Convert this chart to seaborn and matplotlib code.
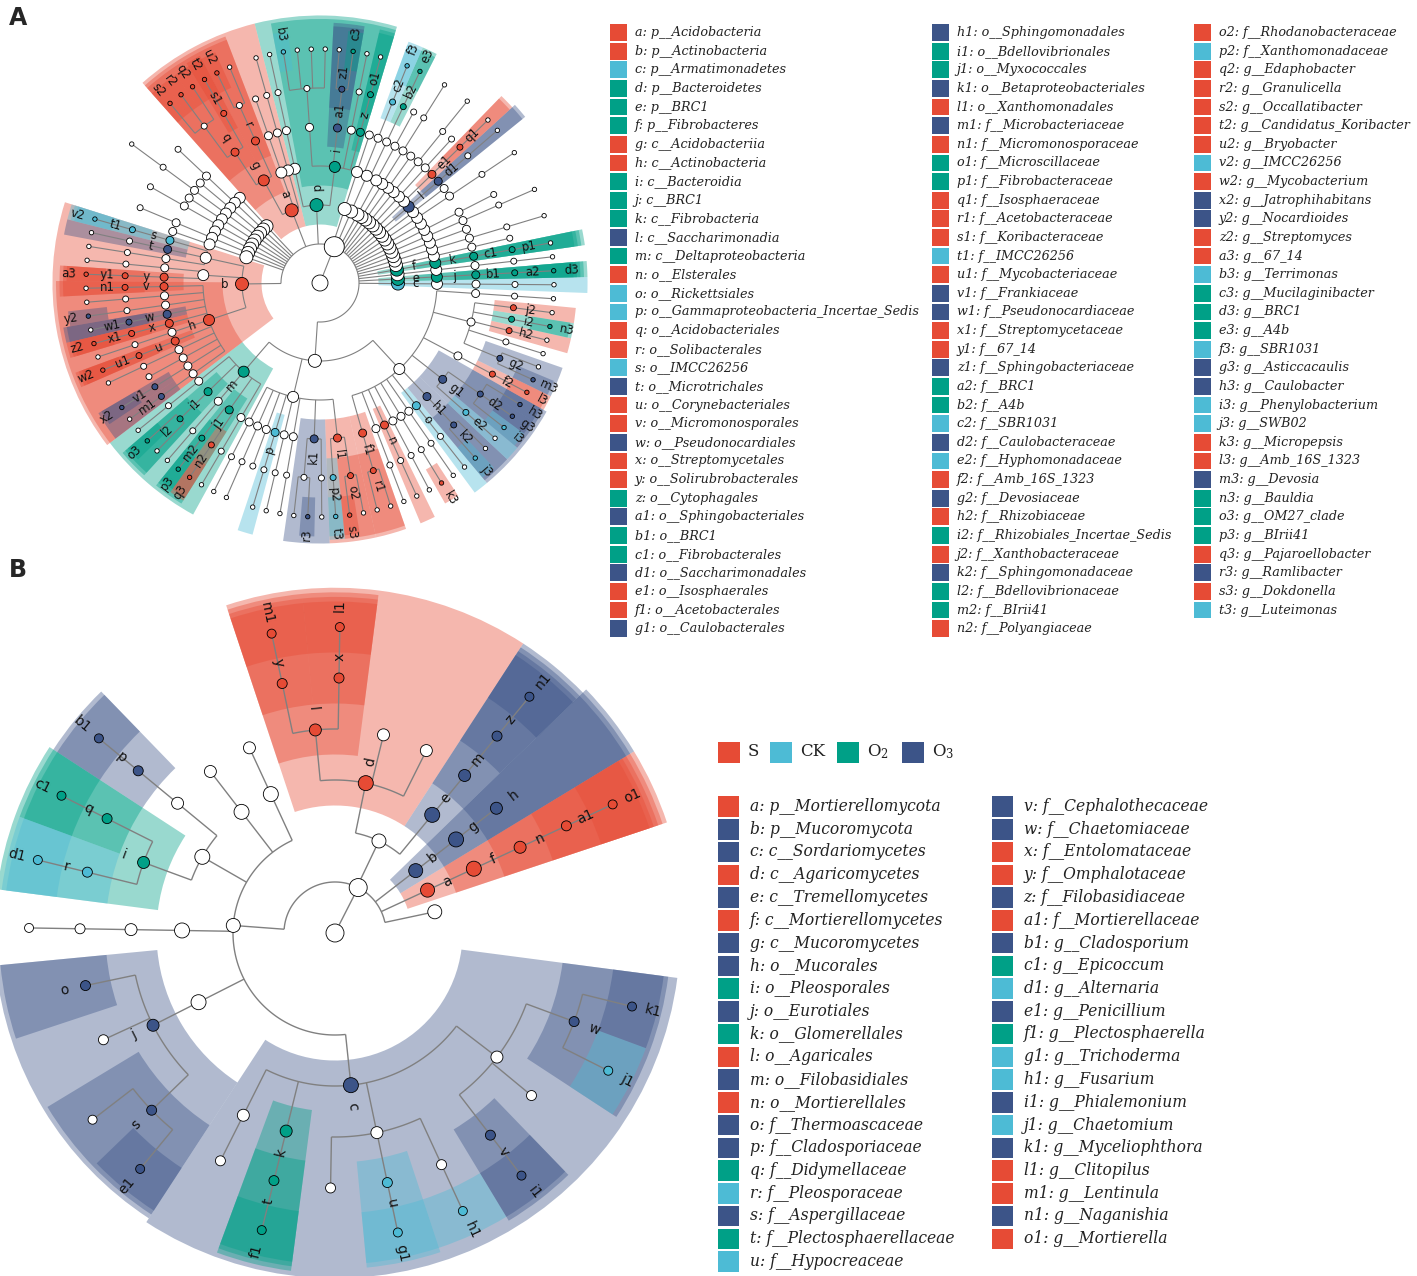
import numpy as np
import pandas as pd
import matplotlib
matplotlib.use("Agg")
import matplotlib.pyplot as plt
from matplotlib.patches import Wedge, Rectangle
from matplotlib.collections import LineCollection
import seaborn as sns

sns.set_theme(style="white")
plt.rcParams["font.family"] = ["DejaVu Sans"]
plt.rcParams["mathtext.fontset"] = "dejavuserif"

W, H = 1417, 1276

# gruppi e colori
GROUPS = ["S", "CK", "O2", "O3"]
GROUP_LABELS = ["S", "CK", r"O$_2$", r"O$_3$"]
GROUP_COLORS = ["#E64B35", "#4DBBD5", "#00A087", "#3C5488"]

# ---- pannello A: legenda (codice: taxon) e gruppo
A_LEGEND = [
    "a: p__Acidobacteria", "b: p__Actinobacteria", "c: p__Armatimonadetes", "d: p__Bacteroidetes",
    "e: p__BRC1", "f: p__Fibrobacteres", "g: c__Acidobacteriia", "h: c__Actinobacteria",
    "i: c__Bacteroidia", "j: c__BRC1", "k: c__Fibrobacteria", "l: c__Saccharimonadia",
    "m: c__Deltaproteobacteria", "n: o__Elsterales", "o: o__Rickettsiales",
    "p: o__Gammaproteobacteria_Incertae_Sedis", "q: o__Acidobacteriales", "r: o__Solibacterales",
    "s: o__IMCC26256", "t: o__Microtrichales", "u: o__Corynebacteriales", "v: o__Micromonosporales",
    "w: o__Pseudonocardiales", "x: o__Streptomycetales", "y: o__Solirubrobacterales",
    "z: o__Cytophagales", "a1: o__Sphingobacteriales", "b1: o__BRC1", "c1: o__Fibrobacterales",
    "d1: o__Saccharimonadales", "e1: o__Isosphaerales", "f1: o__Acetobacterales",
    "g1: o__Caulobacterales",
    "h1: o__Sphingomonadales", "i1: o__Bdellovibrionales", "j1: o__Myxococcales",
    "k1: o__Betaproteobacteriales", "l1: o__Xanthomonadales", "m1: f__Microbacteriaceae",
    "n1: f__Micromonosporaceae", "o1: f__Microscillaceae", "p1: f__Fibrobacteraceae",
    "q1: f__Isosphaeraceae", "r1: f__Acetobacteraceae", "s1: f__Koribacteraceae",
    "t1: f__IMCC26256", "u1: f__Mycobacteriaceae", "v1: f__Frankiaceae", "w1: f__Pseudonocardiaceae",
    "x1: f__Streptomycetaceae", "y1: f__67_14", "z1: f__Sphingobacteriaceae", "a2: f__BRC1",
    "b2: f__A4b", "c2: f__SBR1031", "d2: f__Caulobacteraceae", "e2: f__Hyphomonadaceae",
    "f2: f__Amb_16S_1323", "g2: f__Devosiaceae", "h2: f__Rhizobiaceae",
    "i2: f__Rhizobiales_Incertae_Sedis", "j2: f__Xanthobacteraceae", "k2: f__Sphingomonadaceae",
    "l2: f__Bdellovibrionaceae", "m2: f__BIrii41", "n2: f__Polyangiaceae",
    "o2: f__Rhodanobacteraceae", "p2: f__Xanthomonadaceae", "q2: g__Edaphobacter",
    "r2: g__Granulicella", "s2: g__Occallatibacter", "t2: g__Candidatus_Koribacter",
    "u2: g__Bryobacter", "v2: g__IMCC26256", "w2: g__Mycobacterium", "x2: g__Jatrophihabitans",
    "y2: g__Nocardioides", "z2: g__Streptomyces", "a3: g__67_14", "b3: g__Terrimonas",
    "c3: g__Mucilaginibacter", "d3: g__BRC1", "e3: g__A4b", "f3: g__SBR1031",
    "g3: g__Asticcacaulis", "h3: g__Caulobacter", "i3: g__Phenylobacterium", "j3: g__SWB02",
    "k3: g__Micropepsis", "l3: g__Amb_16S_1323", "m3: g__Devosia", "n3: g__Bauldia",
    "o3: g__OM27_clade", "p3: g__BIrii41", "q3: g__Pajaroellobacter", "r3: g__Ramlibacter",
    "s3: g__Dokdonella", "t3: g__Luteimonas",
]
A_GROUP = [
    "S", "S", "CK", "O2", "O2", "O2", "S", "S", "O2", "O2", "O2", "O3", "O2", "S", "CK", "CK",
    "S", "S", "CK", "O3", "S", "S", "O3", "S", "S", "O2", "O3", "O2", "O2", "O3", "S", "S", "O3",
    "O3", "O2", "O2", "O3", "S", "O3", "S", "O2", "O2", "S", "S", "S", "CK", "S", "O3", "O3",
    "S", "S", "O3", "O2", "O2", "CK", "O3", "CK", "S", "O3", "S", "O2", "S", "O3", "O2", "O2", "S",
    "S", "CK", "S", "S", "S", "S", "S", "CK", "S", "O3", "O3", "S", "S", "CK", "O2", "O2", "O2",
    "CK", "O3", "O3", "CK", "CK", "S", "S", "O3", "O2", "O2", "O2", "S", "O3", "S", "CK",
]
A_ROWS = [33, 33, 32]

# albero A: un sottoalbero per phylum (notazione newick, '*' = nodo non significativo,
# '*N' = catena di N nodi non significativi), in ordine antiorario
A_PHYLA = [
    "((*3,((o3,*)l2)i1,*3,((p3)m2,(q3)n2)j1,*3)m,"
    "(*3,*3,*2,(*2)p,*3,*3,((*,r3)*,*2)k1,((t3)p2,(s3,*)o2)l1)*,"
    "(((*,*)r1)f1,*3,(*2)n,*3,((k3)*)*,*3,(*2)o,((j3,*)k2)h1,((*)e2,(i3,g3,h3)d2)g1,"
    "((l3)f2)*,((m3,*)g2,*2,(*)h2,(n3)i2,(*)j2)*,*3)*)*",
    "(*4)c",
    "((((d3)a2)b1)j)e",
    "*5",
    "((((*)p1)c1)k)f",
    "*4", "*5", "*3", "*5", "*4", "*2", "*5", "*3",
    "((((*)*)d1)l)*",
    "((((*)q1)e1)*)*",
    "*4", "*5", "*3", "*5", "*4",
    "((((e3)b2)*,((f3)c2)*)*)*",
    "*3",
    "((((*)o1)z,*3,((c3,*)z1)a1,((*,*,*,b3)*)*)i,*4)d",
    "(*4,*3,(((*,u2)*)r,((t2)s1,(q2,r2,s2)*)q)g)a",
    "*2", "*4", "*3", "*5", "*3", "*4", "*2", "*4", "*3",
    "((((v2)t1)s,((*)*)t,*3)*,(*3,((a3)y1)y)*,"
    "(((*)n1)v,*3,((y2)*)*,((*)w1)w,((z2)x1)x,*3,((w2)u1)u,*3,*2,((x2)v1)*,((*)m1)*)h)b",
]

# ---- pannello B
B_LEGEND = [
    "a: p__Mortierellomycota", "b: p__Mucoromycota", "c: c__Sordariomycetes",
    "d: c__Agaricomycetes", "e: c__Tremellomycetes", "f: c__Mortierellomycetes",
    "g: c__Mucoromycetes", "h: o__Mucorales", "i: o__Pleosporales", "j: o__Eurotiales",
    "k: o__Glomerellales", "l: o__Agaricales", "m: o__Filobasidiales", "n: o__Mortierellales",
    "o: f__Thermoascaceae", "p: f__Cladosporiaceae", "q: f__Didymellaceae", "r: f__Pleosporaceae",
    "s: f__Aspergillaceae", "t: f__Plectosphaerellaceae", "u: f__Hypocreaceae",
    "v: f__Cephalothecaceae", "w: f__Chaetomiaceae", "x: f__Entolomataceae", "y: f__Omphalotaceae",
    "z: f__Filobasidiaceae", "a1: f__Mortierellaceae", "b1: g__Cladosporium", "c1: g__Epicoccum",
    "d1: g__Alternaria", "e1: g__Penicillium", "f1: g__Plectosphaerella", "g1: g__Trichoderma",
    "h1: g__Fusarium", "i1: g__Phialemonium", "j1: g__Chaetomium", "k1: g__Myceliophthora",
    "l1: g__Clitopilus", "m1: g__Lentinula", "n1: g__Naganishia", "o1: g__Mortierella",
]
B_GROUP = [
    "S", "O3", "O3", "S", "O3", "S", "O3", "O3", "O2", "O3", "O2", "S", "O3", "S", "O3", "O3",
    "O2", "CK", "O3", "O2", "CK",
    "O3", "O3", "S", "S", "O3", "S", "O3", "O2", "CK", "O3", "O2", "CK", "CK", "O3", "CK", "O3",
    "S", "S", "O3", "S",
]
B_ROWS = [21, 20]

B_PHYLA = [
    "*",
    "((((o1)a1)n)f)a",
    "((h)g)b",
    "((((n1)z)m)e,(*,*,((l1)x,(m1)y)l)d)*",
    "(*2,*2,(((b1)p)*,((c1)q,(d1)r)i)*,*4,((o,*,(*,e1)s)j)*,"
    "(*2,((f1)t)k,(*,(g1)u,(h1)*)*,((i1)v,*,(j1,k1)w)*)c)*",
]


def parse_tree(text):
    pos = 0

    def read():
        nonlocal pos
        kids = []
        if text[pos] == "(":
            pos += 1
            kids.append(read())
            while text[pos] == ",":
                pos += 1
                kids.append(read())
            pos += 1
        start = pos
        while pos < len(text) and text[pos] not in "(),":
            pos += 1
        name = text[start:pos]
        if name.startswith("*") and len(name) > 1:
            node = {"name": "*", "kids": kids}
            for _ in range(int(name[1:]) - 1):
                node = {"name": "*", "kids": [node]}
            return node
        return {"name": name, "kids": kids}

    return read()


def layout(root, start, spacing):
    nodes = []
    count = [0]

    def walk(nd, depth):
        nd["depth"] = depth
        if not nd["kids"]:
            nd["ang"] = start + count[0] * spacing
            nd["lo"] = nd["hi"] = nd["ang"]
            count[0] += 1
        else:
            for k in nd["kids"]:
                walk(k, depth + 1)
            nd["ang"] = np.mean([k["ang"] for k in nd["kids"]])
            nd["lo"] = min(k["lo"] for k in nd["kids"])
            nd["hi"] = max(k["hi"] for k in nd["kids"])
        nodes.append(nd)

    walk(root, 0)
    return nodes


def draw_cladogram(ax, phyla, legend, groups, cx, cy, step, start, spacing,
                   node_r, label_fs, label_off, lw):
    color_of = {lab.split(":")[0]: GROUP_COLORS[GROUPS.index(g)] for lab, g in zip(legend, groups)}
    root = {"name": "root", "kids": [{"name": "*", "kids": [parse_tree(p) for p in phyla]}]}
    nodes = layout(root, start, spacing)
    maxd = max(n["depth"] for n in nodes)

    def xy(r, a):
        a = np.radians(a)
        return cx + r * np.cos(a), cy + r * np.sin(a)

    # settori colorati dei clade significativi
    for n in sorted(nodes, key=lambda n: n["depth"]):
        if n["name"] in color_of:
            r_in = (n["depth"] - 0.5) * step
            r_out = (maxd + 0.5) * step + (maxd - n["depth"]) * 0.09 * step
            ax.add_patch(Wedge((cx, cy), r_out, n["lo"] - spacing / 2, n["hi"] + spacing / 2,
                               width=r_out - r_in, facecolor=color_of[n["name"]],
                               alpha=0.4, lw=0, zorder=1))

    # rami
    segs = []
    for n in nodes:
        if not n["kids"]:
            continue
        r0 = n["depth"] * step
        if n["depth"] > 0:
            angs = [k["ang"] for k in n["kids"]] + [n["ang"]]
            t = np.linspace(min(angs), max(angs), 200)
            segs.append(np.column_stack(xy(r0, t)))
        for k in n["kids"]:
            segs.append([xy(r0, k["ang"]), xy(k["depth"] * step, k["ang"])])
    ax.add_collection(LineCollection(segs, colors="#808080", linewidths=lw, zorder=2))

    # nodi
    rows = []
    for n in nodes:
        x, y = xy(n["depth"] * step, n["ang"])
        rows.append({"x": x, "y": y, "fill": color_of.get(n["name"], "#ffffff"),
                     "area": (1.44 * node_r[n["depth"]]) ** 2})
    df = pd.DataFrame(rows)
    sns.scatterplot(data=df, x="x", y="y", hue="fill",
                    palette={c: c for c in df["fill"].unique()},
                    s=df["area"].to_numpy(), edgecolor="black", linewidth=0.6,
                    legend=False, ax=ax, zorder=3)

    # etichette
    for n in nodes:
        if n["name"] not in color_of:
            continue
        x, y = xy((n["depth"] + label_off) * step, n["ang"])
        deg = ((n["ang"] + 180) % 360) - 180
        if deg > 90:
            rot = deg - 180
        elif deg <= -90:
            rot = deg + 180
        else:
            rot = deg
        ax.text(x, y, n["name"], fontsize=label_fs, rotation=rot, rotation_mode="anchor",
                ha="center", va="center", color="#111111", zorder=4)


def draw_legend(ax, legend, groups, rows, col_x, y0, dy, box, fs, gap):
    i = 0
    for c, nrow in enumerate(rows):
        for r in range(nrow):
            yc = H - (y0 + r * dy)
            col = GROUP_COLORS[GROUPS.index(groups[i])]
            ax.add_patch(Rectangle((col_x[c], yc - box / 2), box, box, facecolor=col, lw=0))
            ax.text(col_x[c] + box + gap, yc, legend[i], fontsize=fs, family="DejaVu Serif",
                    style="italic", ha="left", va="center", color="#222222")
            i += 1


fig = plt.figure(figsize=(W / 100, H / 100), dpi=100)
ax = fig.add_axes([0, 0, 1, 1])
ax.set_xlim(0, W)
ax.set_ylim(0, H)
ax.axis("off")

# pannello A
draw_cladogram(ax, A_PHYLA, A_LEGEND, A_GROUP, cx=320, cy=H - 283, step=39,
               start=-141, spacing=360 / 105,
               node_r={0: 8, 1: 10, 2: 6.5, 3: 5.5, 4: 4, 5: 3, 6: 2.2},
               label_fs=8.5, label_off=0.45, lw=0.8)
draw_legend(ax, A_LEGEND, A_GROUP, A_ROWS, col_x=[610, 932, 1194], y0=32.5, dy=18.63,
            box=16.8, fs=9.2, gap=8)

# pannello B
draw_cladogram(ax, B_PHYLA, B_LEGEND, B_GROUP, cx=335, cy=H - 933, step=51,
               start=12, spacing=12.85,
               node_r={0: 9, 1: 9, 2: 7, 3: 7.5, 4: 6, 5: 5, 6: 4.5},
               label_fs=10, label_off=0.42, lw=1.0)
for gx, lab, col in zip([718, 770, 837, 902], GROUP_LABELS, GROUP_COLORS):
    ax.add_patch(Rectangle((gx, H - 752 - 10.5), 22, 21, facecolor=col, lw=0))
    ax.text(gx + 30, H - 752, lab, fontsize=12, family="DejaVu Serif", ha="left",
            va="center", color="#222222")
draw_legend(ax, B_LEGEND, B_GROUP, B_ROWS, col_x=[718, 992], y0=806.5, dy=22.75,
            box=20.5, fs=11.2, gap=11)

ax.text(18, H - 18, "A", fontsize=17, fontweight="bold", ha="center", va="center")
ax.text(18, H - 570, "B", fontsize=17, fontweight="bold", ha="center", va="center")

fig.savefig("out.png", dpi=100)
